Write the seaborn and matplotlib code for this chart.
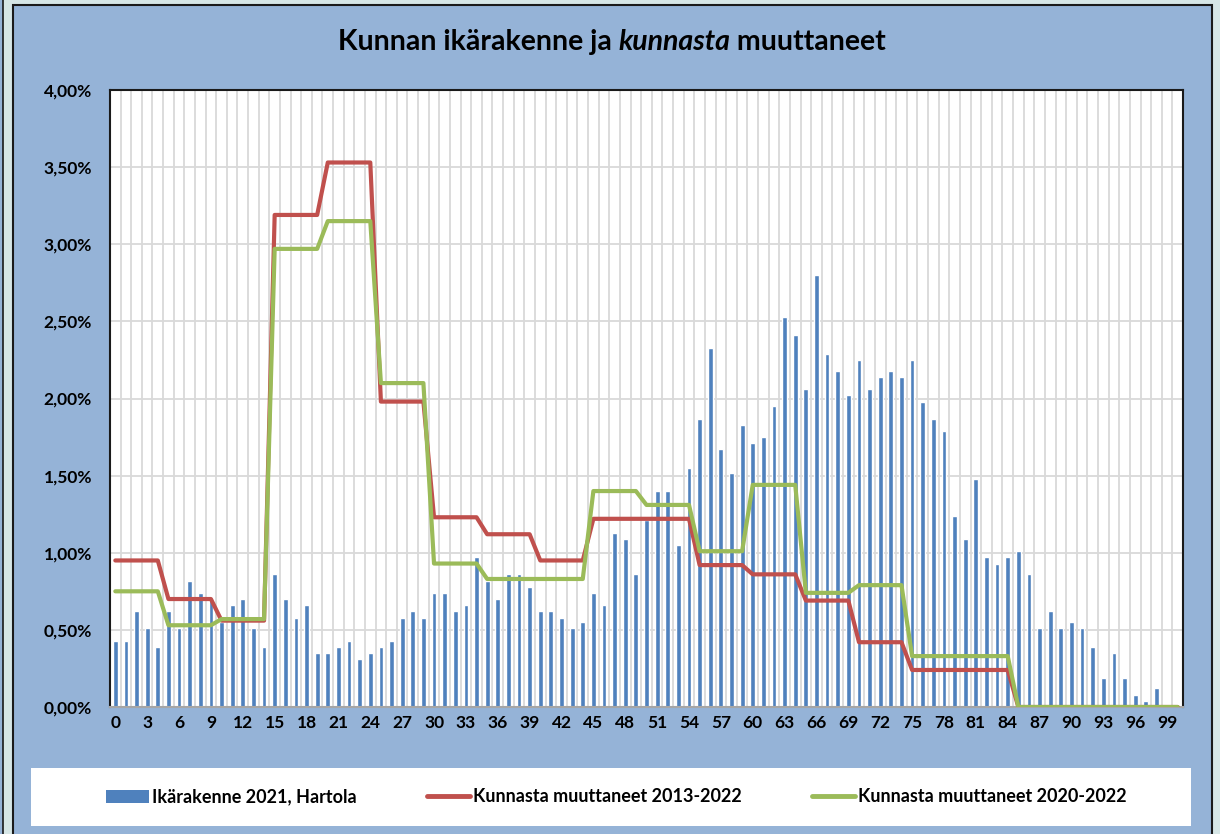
import numpy as np
import pandas as pd
import matplotlib
matplotlib.use("Agg")
import matplotlib.pyplot as plt
import seaborn as sns
from matplotlib.patches import Rectangle, Patch
from matplotlib.lines import Line2D
from matplotlib.ticker import FuncFormatter, MultipleLocator

# Data: ikärakenne (% of population by age) and muuttaneet by 5-year group
ages = list(range(101))
ikarakenne = [0.43, 0.43, 0.62, 0.51, 0.39, 0.62, 0.51, 0.82, 0.74, 0.70,
              0.55, 0.66, 0.70, 0.51, 0.39, 0.86, 0.70, 0.58, 0.66, 0.35,
              0.35, 0.39, 0.43, 0.31, 0.35, 0.39, 0.43, 0.58, 0.62, 0.58,
              0.74, 0.74, 0.62, 0.66, 0.97, 0.82, 0.70, 0.86, 0.86, 0.78,
              0.62, 0.62, 0.58, 0.51, 0.55, 0.74, 0.66, 1.13, 1.09, 0.86,
              1.21, 1.40, 1.40, 1.05, 1.55, 1.87, 2.33, 1.67, 1.52, 1.83,
              1.71, 1.75, 1.95, 2.53, 2.41, 2.06, 2.80, 2.29, 2.18, 2.02,
              2.25, 2.06, 2.14, 2.18, 2.14, 2.25, 1.98, 1.87, 1.79, 1.24,
              1.09, 1.48, 0.97, 0.93, 0.97, 1.01, 0.86, 0.51, 0.62, 0.51,
              0.55, 0.51, 0.39, 0.19, 0.35, 0.19, 0.08, 0.04, 0.12, 0.00,
              0.00]
group_sizes = [5] * 17 + [16]   # 0-4, 5-9, ..., 80-84, 85-100
muutt_2013_2022 = [0.95, 0.70, 0.56, 3.19, 3.53, 1.98, 1.23, 1.12, 0.95,
                   1.22, 1.22, 0.92, 0.86, 0.69, 0.42, 0.24, 0.24, 0.00]
muutt_2020_2022 = [0.75, 0.53, 0.57, 2.97, 3.15, 2.10, 0.93, 0.83, 0.83,
                   1.40, 1.31, 1.01, 1.44, 0.74, 0.79, 0.33, 0.33, 0.00]

labels = ["Ikärakenne 2021, Hartola", "Kunnasta muuttaneet 2013-2022",
          "Kunnasta muuttaneet 2020-2022"]
c_bar, c_red, c_green = "#4F81BD", "#C0504D", "#9BBB59"
bg = "#95B3D7"

df_bar = pd.DataFrame({"ika": ages, "osuus": ikarakenne})
df_line = pd.DataFrame({
    "ika": ages,
    labels[1]: np.repeat(muutt_2013_2022, group_sizes),
    labels[2]: np.repeat(muutt_2020_2022, group_sizes),
}).melt(id_vars="ika", var_name="sarja", value_name="osuus")

sns.set_style("white")
plt.rcParams["font.family"] = ["Lato", "DejaVu Sans"]
plt.rcParams["font.weight"] = "bold"
plt.rcParams["text.color"] = "black"
plt.rcParams["xtick.color"] = "black"
plt.rcParams["ytick.color"] = "black"

fig = plt.figure(figsize=(12.2, 8.34), dpi=100)
fig.patch.set_facecolor("#D6E6E6")
# outer chart area
fig.patches.append(Rectangle((13 / 1220, -0.02), 1199 / 1220, 1.02 - 5 / 834,
                             transform=fig.transFigure, facecolor=bg,
                             edgecolor="#1a1a1a", lw=1.5, zorder=-3))
fig.patches.append(Rectangle((-0.01, -0.02), 0.0125, 1.04,
                             transform=fig.transFigure, facecolor=bg,
                             edgecolor="#1a1a1a", lw=1.2, zorder=-3))
# legend box
fig.patches.append(Rectangle((31 / 1220, 1 - 826 / 834), 1160 / 1220, 58 / 834,
                             transform=fig.transFigure, facecolor="white",
                             edgecolor="none", zorder=-2))

ax = fig.add_axes([110 / 1220, 1 - 707 / 834, 1073 / 1220, 617 / 834])
ax.set_facecolor("white")

sns.barplot(data=df_bar, x="ika", y="osuus", color=c_bar, saturation=1,
            width=0.45, ax=ax, zorder=2)
sns.lineplot(data=df_line, x="ika", y="osuus", hue="sarja",
             palette={labels[1]: c_red, labels[2]: c_green},
             linewidth=3.0, legend=False, ax=ax, zorder=3)

ax.set_xlim(-0.5, 100.5)
ax.set_ylim(0, 4)
ax.xaxis.set_major_locator(MultipleLocator(3))
ax.xaxis.set_major_formatter(FuncFormatter(lambda v, p: f"{int(round(v))}"))
ax.xaxis.set_minor_locator(MultipleLocator(1, offset=0.5))
ax.yaxis.set_major_locator(MultipleLocator(0.5))
ax.yaxis.set_major_formatter(FuncFormatter(lambda v, p: f"{v:.2f}%".replace(".", ",")))
ax.grid(which="minor", axis="x", color="#D9D9D9", lw=1.3, zorder=0)
ax.grid(which="major", axis="y", color="#D9D9D9", lw=1.3, zorder=0)
ax.set_axisbelow(True)
ax.tick_params(axis="both", which="both", length=0)
ax.tick_params(axis="y", pad=13, labelsize=12.5)
ax.tick_params(axis="x", pad=6, labelsize=12.5)
for lab in ax.get_xticklabels() + ax.get_yticklabels():
    lab.set_fontweight("bold")
ax.set_xlabel("")
ax.set_ylabel("")
for side in ["left", "top", "right"]:
    ax.spines[side].set_color("#1a1a1a")
    ax.spines[side].set_linewidth(1.5)
ax.spines["bottom"].set_color("#A6A6A6")
ax.spines["bottom"].set_linewidth(1.5)

# title with italic middle word
parts = [("Kunnan ikärakenne ja ", "normal"), ("kunnasta", "italic"),
         (" muuttaneet", "normal")]
texts = [fig.text(0, 1 - 42 / 834, s, fontsize=20.5, fontweight="bold",
                  fontstyle=st, va="center", ha="left") for s, st in parts]
renderer = fig.canvas.get_renderer()
widths = [t.get_window_extent(renderer).width for t in texts]
x0 = 612 - sum(widths) / 2
for t, w in zip(texts, widths):
    t.set_x(x0 / 1220)
    x0 += w

handles = [Patch(facecolor=c_bar, edgecolor="none"),
           Line2D([], [], color=c_red, lw=3.5),
           Line2D([], [], color=c_green, lw=3.5)]
leg = fig.legend(handles, labels, loc="center", ncol=3,
                 bbox_to_anchor=(616 / 1220, 1 - 797 / 834), frameon=False,
                 prop={"size": 13, "weight": "bold"}, handlelength=2.4,
                 handletextpad=0.15, columnspacing=3.9)

fig.savefig("out.png", dpi=100, facecolor=fig.get_facecolor())
